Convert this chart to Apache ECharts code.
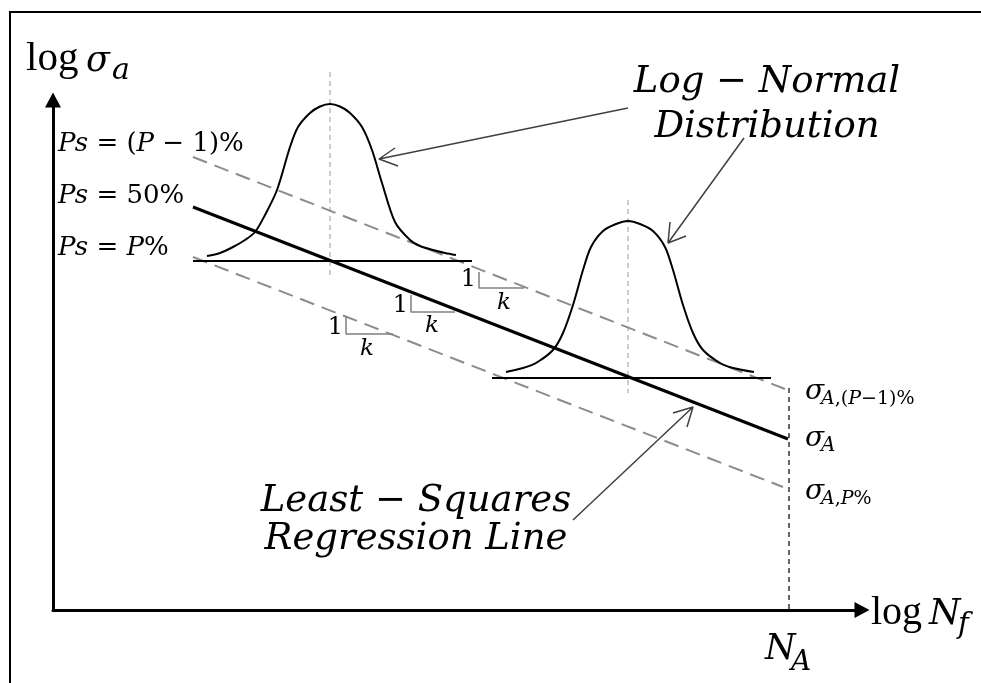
<!DOCTYPE html>
<html><head><meta charset="utf-8">
<script src="https://cdn.jsdelivr.net/npm/echarts@6/dist/echarts.min.js"></script>
<style>html,body{margin:0;padding:0;background:#fff}#c{width:981px;height:683px}</style>
</head><body><div id="c"></div>
<script>
// ---- data (axis units: x = log N_f, y = log sigma_a) ----
const xRange = [0, 80.9];
const yRange = [0, 51.0];
const lineP1 = [[14.0, 45.3], [73.2, 22.1]];   // Ps = (P-1)%
const line50 = [[14.0, 40.3], [73.5, 17.1]];   // Ps = 50%
const lineP  = [[14.0, 35.3], [73.0, 12.3]];   // Ps = P%
const base1 = [[14.0, 34.9], [41.9, 34.9]];
const base2 = [[43.9, 23.2], [71.8, 23.2]];
const center1 = [[27.7, 53.8], [27.7, 33.3]];
const center2 = [[57.5, 41.0], [57.5, 21.7]];
const naLine = [[73.6, 22.2], [73.6, 0]];
const bell1X = [15.4,16.7,18.0,19.2,20.2,21.2,22.4,23.7,24.5,25.7,26.7,27.7,28.7,29.7,30.9,31.9,32.9,34.2,35.7,36.7,38.0,39.2,40.3];
const bell1Y = [35.4,35.7,36.3,37.0,37.8,39.5,42.0,46.3,48.3,49.7,50.35,50.6,50.35,49.7,48.3,46.0,42.7,38.8,37.0,36.4,36.0,35.7,35.5];
const bell2X = [45.3,47.0,48.3,50.0,51.0,52.0,53.0,53.8,55.0,56.3,57.5,58.7,60.0,61.2,62.0,63.0,64.0,65.0,66.7,68.0,70.1];
const bell2Y = [23.8,24.2,24.7,26.0,27.7,30.5,34.0,36.3,37.9,38.6,38.9,38.6,37.9,36.3,34.0,30.5,27.7,26.0,24.7,24.2,23.8];
const slope1 = [[42.6, 33.8], [42.6, 32.2], [47.1, 32.2]];
const slope2 = [[35.8, 31.5], [35.8, 29.8], [40.2, 29.8]];
const slope3 = [[29.3, 29.3], [29.3, 27.6], [34.0, 27.6]];
// arrows: tail, tip, wing, tip, wing
const arrow1 = [[57.5, 50.2], [32.6, 45.1], [34.2, 46.2], [32.6, 45.1], [34.5, 44.4]];
const arrow2 = [[69.1, 47.2], [61.5, 36.7], [63.3, 37.4], [61.5, 36.7], [61.7, 38.8]];
const arrow3 = [[52.0, 9.0], [64.0, 20.3], [62.0, 19.7], [64.0, 20.3], [63.4, 18.3]];

const zip = (xs, ys) => xs.map((x, i) => [x, ys[i]]);

function seg(data, color, width, type, extra) {
  return Object.assign({
    type: 'line', data: data, showSymbol: false, symbol: 'none', clip: false, silent: true,
    lineStyle: { color: color, width: width, type: type || 'solid', cap: 'butt' }, animation: false
  }, extra || {});
}

const SERIF = '"DejaVu Serif"';
function T(text, x, base, size, o) {
  o = o || {};
  const fam = o.family || SERIF;
  const st = o.italic ? 'italic' : 'normal';
  const style = {
    text: text, fill: '#000', align: o.align || 'left', verticalAlign: 'middle',
    fontSize: size, fontFamily: fam, fontStyle: st
  };
  if (o.rich) style.rich = o.rich;
  return { type: 'text', x: x, y: base - 0.3 * size, silent: true, z: 100, style: style };
}
function it(size) { return { i: { fontStyle: 'italic', fontSize: size, fontFamily: 'DejaVu Serif' }, n: { fontSize: size, fontFamily: 'DejaVu Serif' } }; }

const chart = echarts.init(document.getElementById('c'), null, { renderer: 'canvas' });
const axisCommon = {
  type: 'value', axisLabel: { show: false }, axisTick: { show: false }, splitLine: { show: false },
  axisLine: { show: true, symbol: ['none', 'triangle'], symbolSize: [16, 15], lineStyle: { color: '#000', width: 3 } }
};
chart.setOption({
  animation: false,
  backgroundColor: '#fff',
  grid: { left: 53, right: 119, top: 100, bottom: 73 },
  xAxis: Object.assign({}, axisCommon, { min: xRange[0], max: xRange[1] }),
  yAxis: Object.assign({}, axisCommon, { min: yRange[0], max: yRange[1] }),
  series: [
    seg(center1, '#9a9a9a', 1, [5, 4]),
    seg(center2, '#9a9a9a', 1, [5, 4]),
    seg(naLine, '#000', 1.2, [5, 4]),
    seg(lineP1, '#8c8c8c', 2, [15, 8]),
    seg(lineP, '#8c8c8c', 2, [15, 8]),
    seg(line50, '#000', 3),
    seg(base1, '#000', 2),
    seg(base2, '#000', 2),
    seg(zip(bell1X, bell1Y), '#000', 2, 'solid', { smooth: 0.3 }),
    seg(zip(bell2X, bell2Y), '#000', 2, 'solid', { smooth: 0.3 }),
    seg(slope1, '#808080', 1.5),
    seg(slope2, '#808080', 1.5),
    seg(slope3, '#808080', 1.5),
    seg(arrow1, '#404040', 1.5),
    seg(arrow2, '#404040', 1.5),
    seg(arrow3, '#404040', 1.5)
  ],
  graphic: [
    { type: 'rect', z: -1, silent: true, shape: { x: 10, y: 12, width: 1000, height: 700 }, style: { fill: 'none', stroke: '#000', lineWidth: 2 } },
    T('log', 26, 72, 41, { family: '"Liberation Serif"' }),
    T('σ', 86, 72, 35, { italic: true }),
    T('a', 112, 80, 30, { italic: true }),
    T('{i|Ps} = ({i|P} − 1)%', 58, 152, 26, { rich: it(26) }),
    T('{i|Ps} = 50%', 58, 204, 26, { rich: it(26) }),
    T('{i|Ps} = {i|P}%', 58, 256, 26, { rich: it(26) }),
    T('Log − Normal', 767, 93, 37, { italic: true, align: 'center' }),
    T('Distribution', 767, 138, 37, { italic: true, align: 'center' }),
    T('Least − Squares', 416, 512, 37, { italic: true, align: 'center' }),
    T('Regression Line', 416, 550, 37, { italic: true, align: 'center' }),
    T('1', 476, 287, 24, { align: 'right' }),
    T('k', 504, 310, 23, { italic: true, align: 'center' }),
    T('1', 408, 313, 24, { align: 'right' }),
    T('k', 432, 333, 23, { italic: true, align: 'center' }),
    T('1', 343, 335, 24, { align: 'right' }),
    T('k', 367, 356, 23, { italic: true, align: 'center' }),
    T('σ', 805, 400, 28, { italic: true }),
    T('{i|A},({i|P}−1)%', 821, 405, 19, { rich: it(19) }),
    T('σ', 805, 447, 28, { italic: true }),
    T('A', 821, 452, 20, { italic: true }),
    T('σ', 805, 500, 28, { italic: true }),
    T('{i|A},{i|P}%', 821, 505, 19, { rich: it(19) }),
    T('N', 765, 660, 35, { italic: true }),
    T('A', 791, 671, 28, { italic: true }),
    T('log', 871, 625, 40, { family: '"Liberation Serif"' }),
    T('N', 929, 625, 36, { italic: true }),
    T('f', 958, 634, 29, { italic: true })
  ]
});
</script>
</body></html>
